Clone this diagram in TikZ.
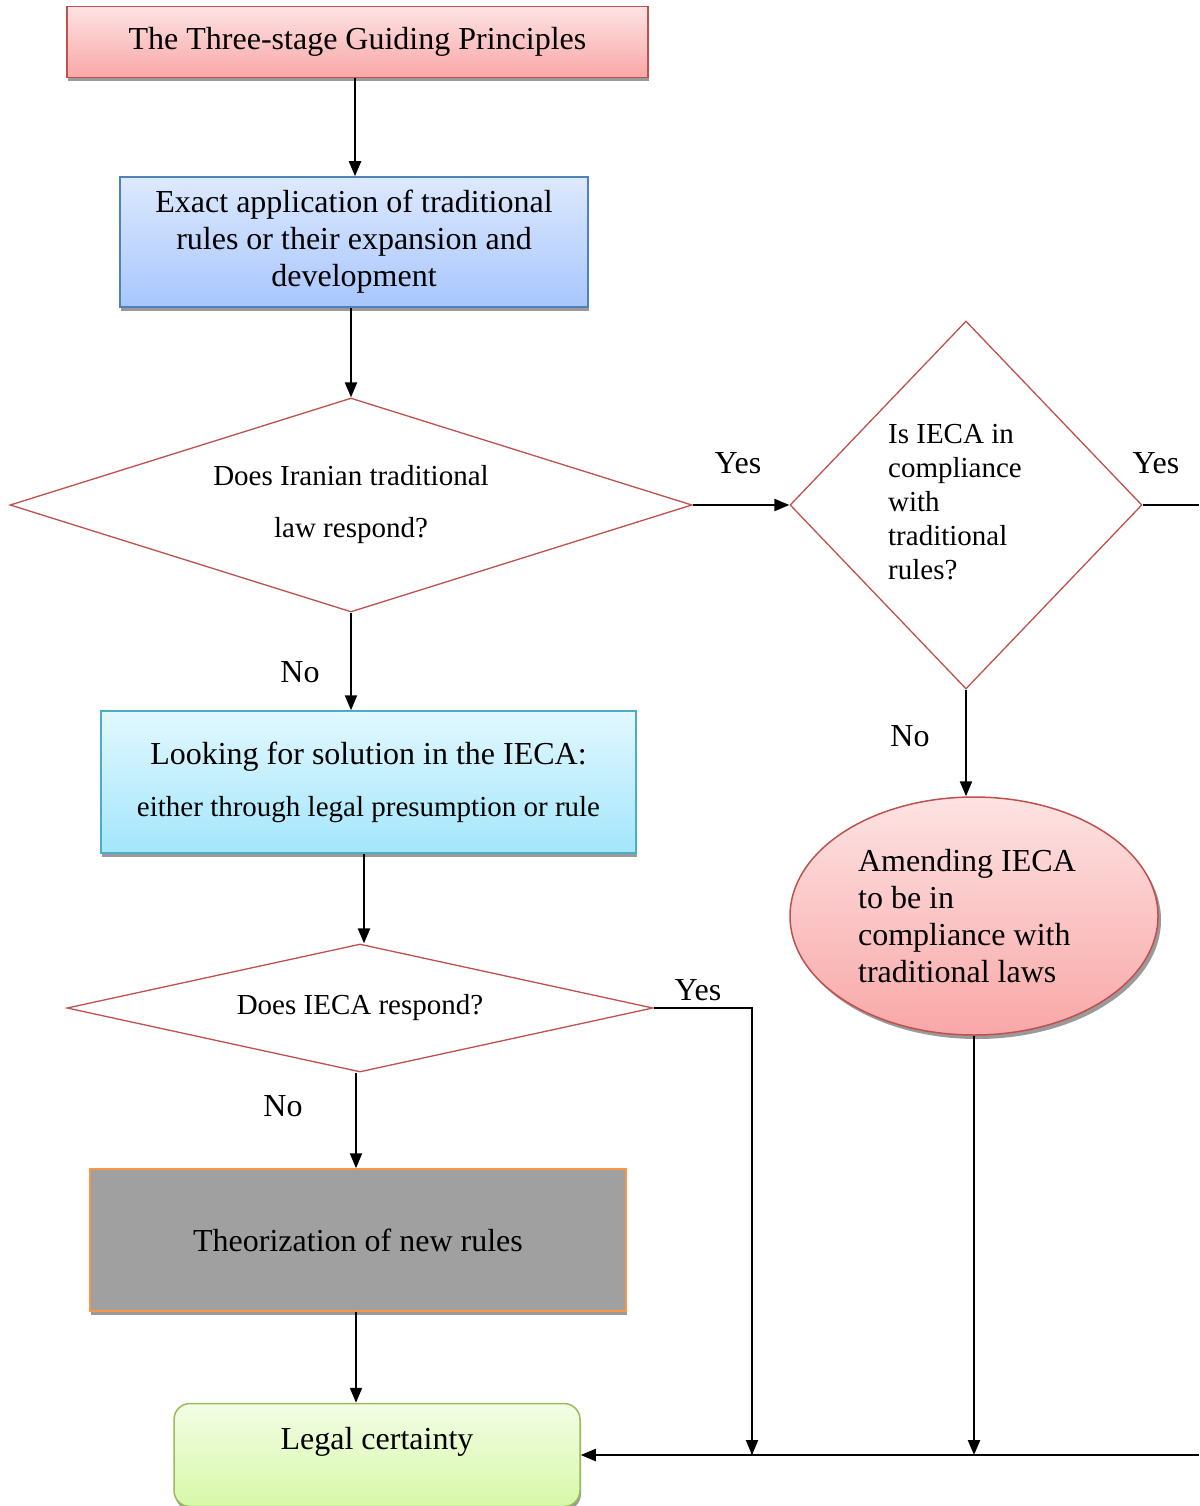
\documentclass[tikz,border=0pt]{standalone}
\usepackage{fontspec}
\setmainfont{Liberation Serif}
\usetikzlibrary{shapes.geometric,arrows.meta,shadows}

\definecolor{redline}{HTML}{C0504D}
\definecolor{blueline}{HTML}{4F81BD}
\definecolor{cyanline}{HTML}{4BACC6}
\definecolor{orangeline}{HTML}{F79646}
\definecolor{greenline}{HTML}{9BBB59}
\definecolor{pinktop}{HTML}{FDE3E3}
\definecolor{pinkbot}{HTML}{F9A7A7}
\definecolor{bluetop}{HTML}{DDE9FD}
\definecolor{bluebot}{HTML}{A8C6FD}
\definecolor{cyantop}{HTML}{E2F8FE}
\definecolor{cyanbot}{HTML}{A3E6FB}
\definecolor{greentop}{HTML}{F3FDE6}
\definecolor{greenbot}{HTML}{D7F8A7}
\definecolor{boxgray}{HTML}{A0A0A0}
\definecolor{shadowgray}{HTML}{9A9A9A}

\newcommand{\bigtxt}{\fontsize{32}{37}\selectfont}
\newcommand{\smalltxt}{\fontsize{29}{34}\selectfont}

\tikzset{
  conn/.style={line width=2.3pt, -{Triangle[length=15pt,width=12pt]}},
  plainline/.style={line width=2.3pt},
  boxshadow/.style={drop shadow={shadow xshift=1pt, shadow yshift=-3.5pt,
      fill=shadowgray, opacity=1}},
  stagebox/.style={rectangle, line width=1.5pt, inner sep=0pt, align=center,
      font=\bigtxt, boxshadow},
  decision/.style={diamond, draw=redline, line width=1.3pt, inner sep=0pt,
      fill=white, font=\smalltxt},
  answer/.style={anchor=base, font=\bigtxt, inner sep=0pt},
}

\begin{document}
\begin{tikzpicture}[x=1pt,y=-1pt]
\useasboundingbox (0,0) rectangle (1199,1506);

% main chain of stages
\node[stagebox, draw=redline, top color=pinktop, bottom color=pinkbot,
      minimum width=581pt, minimum height=71pt] (top) at (357.5,42)
      {The Three-stage Guiding Principles};

\node[stagebox, draw=blueline, top color=bluetop, bottom color=bluebot,
      minimum width=468pt, minimum height=130pt] (expand) at (354,242)
      {Exact application of traditional\\rules or their expansion and\\development};

\node[decision, aspect=3.19, minimum width=682pt, minimum height=214pt, align=center,
      font=\fontsize{29}{52}\selectfont] (q1) at (351,505)
      {Does Iranian traditional\\law respond?};

\node[decision, aspect=0.96, minimum width=352pt, minimum height=368pt]
      (q2) at (966,505)
      {\begin{tabular}{@{}l@{\hspace{22pt}}}Is IECA in\\compliance\\with\\traditional\\rules?\end{tabular}};

\node[ellipse, draw=redline, line width=1.5pt, inner sep=0pt, top color=pinktop,
      bottom color=pinkbot, minimum width=368pt, minimum height=238pt,
      align=left, font=\bigtxt,
      drop shadow={shadow xshift=3pt, shadow yshift=-4pt, fill=shadowgray, opacity=1}]
      (amend) at (974,916)
      {Amending IECA\hspace*{14pt}\\to be in\\compliance with\\traditional laws};

\node[stagebox, draw=cyanline, top color=cyantop, bottom color=cyanbot,
      minimum width=535pt, minimum height=142pt] (search) at (368.5,782)
      {Looking for solution in the IECA:\\[15pt]{\smalltxt either through legal presumption or rule}};

\node[decision, aspect=4.58, minimum width=586pt, minimum height=128pt] (q3) at (360,1008)
      {Does IECA respond?};

\node[stagebox, draw=orangeline, fill=boxgray,
      minimum width=536pt, minimum height=142pt] (theory) at (358,1240)
      {Theorization of new rules};

\node[stagebox, draw=greenline, top color=greentop, bottom color=greenbot,
      rounded corners=16pt, minimum width=406pt, minimum height=103pt] (legal) at (377,1455) {};
\node[font=\bigtxt, inner sep=0pt, anchor=base] (legaltext) at (377,1449) {Legal certainty};

% free ends running off to the right
\coordinate (rightA) at (1199,505);
\coordinate (rightB) at (1199,1455);
\coordinate (joinYes) at (752,1455);
\coordinate (joinAmend) at (974,1455);

% connectors
\draw[conn] (top.south -| 355,0) -- (355,0 |- expand.north);
\draw[conn] (expand.south -| q1.north) -- (q1.north);
\draw[conn] (q1.east) -- (q2.west);
\draw[plainline] (q2.east) -- (rightA);
\draw[conn] (q2.south) -- (q2.south |- amend.north);
\draw[conn] (amend.south) -- (joinAmend);
\draw[conn] (q1.south) -- (q1.south |- search.north);
\draw[conn] (search.south -| 364,0) -- (364,0 |- q3.north);
\draw[plainline] (q3.east) -| (joinYes);
\draw[conn] (q3.east -| joinYes) ++(0,1) -- (joinYes);
\draw[conn] (q3.south -| 356,0) -- (356,0 |- theory.north);
\draw[conn] (theory.south -| 356,0) -- (356,0 |- legal.north);
\draw[conn] (rightB) -- (legal.east);

% branch labels
\node[answer] (yes1) at (738,473) {Yes};
\node[answer] (yes2) at (1156,473) {Yes};
\node[answer] (no1) at (300,682) {No};
\node[answer] (no2) at (910,746) {No};
\node[answer] (yes3) at (698,1000) {Yes};
\node[answer] (no3) at (283,1116) {No};
\end{tikzpicture}
\end{document}
